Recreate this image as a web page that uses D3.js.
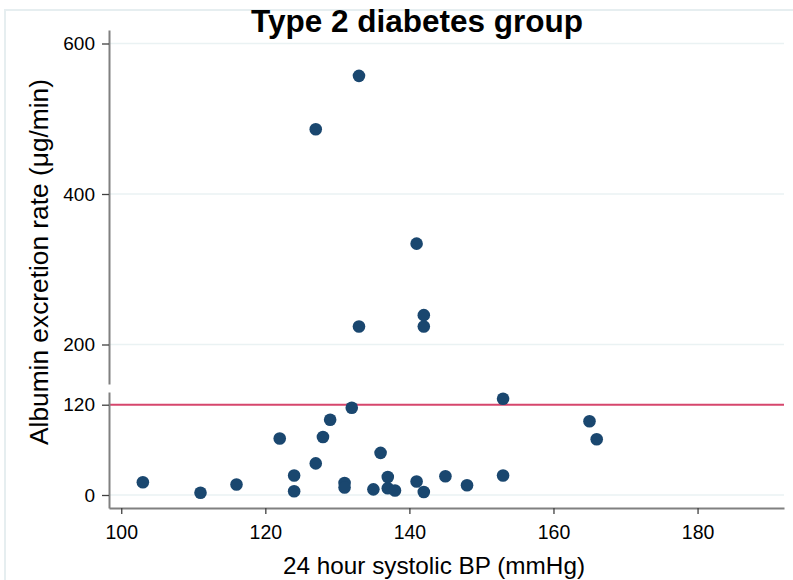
<!DOCTYPE html>
<html>
<head>
<meta charset="utf-8">
<script src="https://cdn.jsdelivr.net/npm/d3@7"></script>
<style>
  html, body { margin: 0; padding: 0; background: #ffffff; }
  svg { display: block; }
  text { font-family: "Liberation Sans", Arial, sans-serif; fill: #000; }
</style>
</head>
<body>
<svg id="chart" width="793" height="580"></svg>
<script>
// ---- data ----
const title = "Type 2 diabetes group";
const xLabel = "24 hour systolic BP (mmHg)";
const yLabel = "Albumin excretion rate (μg/min)";
const systolicBP = [133, 127, 141, 142, 142, 133,
  103, 111, 116, 122, 124, 124, 127, 128, 129, 132, 131, 131, 135, 136,
  137, 137, 138, 141, 142, 145, 148, 153, 153, 165, 166];
const albuminRate = [557, 486, 334, 239, 224, 224,
  17, 3, 14, 75, 26, 5, 42, 77, 100, 116, 16, 10, 7.5, 56,
  24, 9, 6, 18, 4, 25, 13, 128, 26, 98, 74];
const xTicks = [100, 120, 140, 160, 180];
const yTicksUpper = [200, 400, 600];
const yTicksLower = [0, 120];
const gridValues = [0, 200, 400, 600];
const threshold = 120;

// ---- layout ----
const svg = d3.select("#chart");
const plotLeft = 109, plotRight = 784, plotBottom = 508, plotTop = 30;

const x = d3.scaleLinear().domain([98.3, 192]).range([plotLeft, plotRight]);
const y = d3.scaleLinear().domain([0, 600]).range([495, 43.5]);

// outer graph frame
svg.append("rect")
  .attr("x", 5).attr("y", 10).attr("width", 800).attr("height", 600)
  .attr("fill", "none").attr("stroke", "#e6eef0").attr("stroke-width", 2);

// gridlines
svg.append("g").selectAll("line").data(gridValues).join("line")
  .attr("x1", plotLeft).attr("x2", plotRight)
  .attr("y1", d => y(d)).attr("y2", d => y(d))
  .attr("stroke", "#eaf2f3").attr("stroke-width", 1.5);

// threshold line
svg.append("line")
  .attr("x1", plotLeft).attr("x2", plotRight)
  .attr("y1", y(threshold)).attr("y2", y(threshold))
  .attr("stroke", "#d6466c").attr("stroke-width", 2);

// broken y axis: two segments
const yUpper = d3.scaleLinear().domain([y.invert(384), y.invert(plotTop)]).range([384, plotTop]);
const yLower = d3.scaleLinear().domain([y.invert(plotBottom), y.invert(392)]).range([plotBottom, 392]);

function styleAxis(g, fontSize) {
  g.select(".domain").attr("stroke", "#808080").attr("stroke-width", 2);
  g.selectAll(".tick line").attr("stroke", "#404040").attr("stroke-width", 1.3);
  g.selectAll(".tick text").attr("font-size", fontSize)
    .attr("font-family", "'Liberation Sans', Arial, sans-serif").attr("fill", "#111");
}

svg.append("g").attr("transform", `translate(${plotLeft},0)`)
  .call(d3.axisLeft(yUpper).tickValues(yTicksUpper).tickSize(7).tickSizeOuter(0).tickPadding(7))
  .call(g => styleAxis(g, 19));

svg.append("g").attr("transform", `translate(${plotLeft},0)`)
  .call(d3.axisLeft(yLower).tickValues(yTicksLower).tickSize(7).tickSizeOuter(0).tickPadding(7))
  .call(g => styleAxis(g, 19));

// x axis
svg.append("g").attr("transform", `translate(0,${plotBottom})`)
  .call(d3.axisBottom(x).tickValues(xTicks).tickSize(6).tickSizeOuter(0).tickPadding(11))
  .call(g => styleAxis(g, 19.5));

// points
const pts = systolicBP.map((v, i) => ({ x: v, y: albuminRate[i] }));
svg.append("g").selectAll("circle").data(pts).join("circle")
  .attr("cx", d => x(d.x)).attr("cy", d => y(d.y))
  .attr("r", 6.3).attr("fill", "#1a476f");

// title
svg.append("text").attr("x", 417).attr("y", 32)
  .attr("text-anchor", "middle").attr("font-size", 31.5).attr("font-weight", "bold")
  .text(title);

// axis titles
svg.append("text").attr("x", 434).attr("y", 574)
  .attr("text-anchor", "middle").attr("font-size", 24.3).attr("fill", "#111")
  .text(xLabel);

svg.append("text")
  .attr("transform", "translate(48,262) rotate(-90)")
  .attr("text-anchor", "middle").attr("font-size", 26.3).attr("fill", "#111")
  .text(yLabel);
</script>
</body>
</html>
